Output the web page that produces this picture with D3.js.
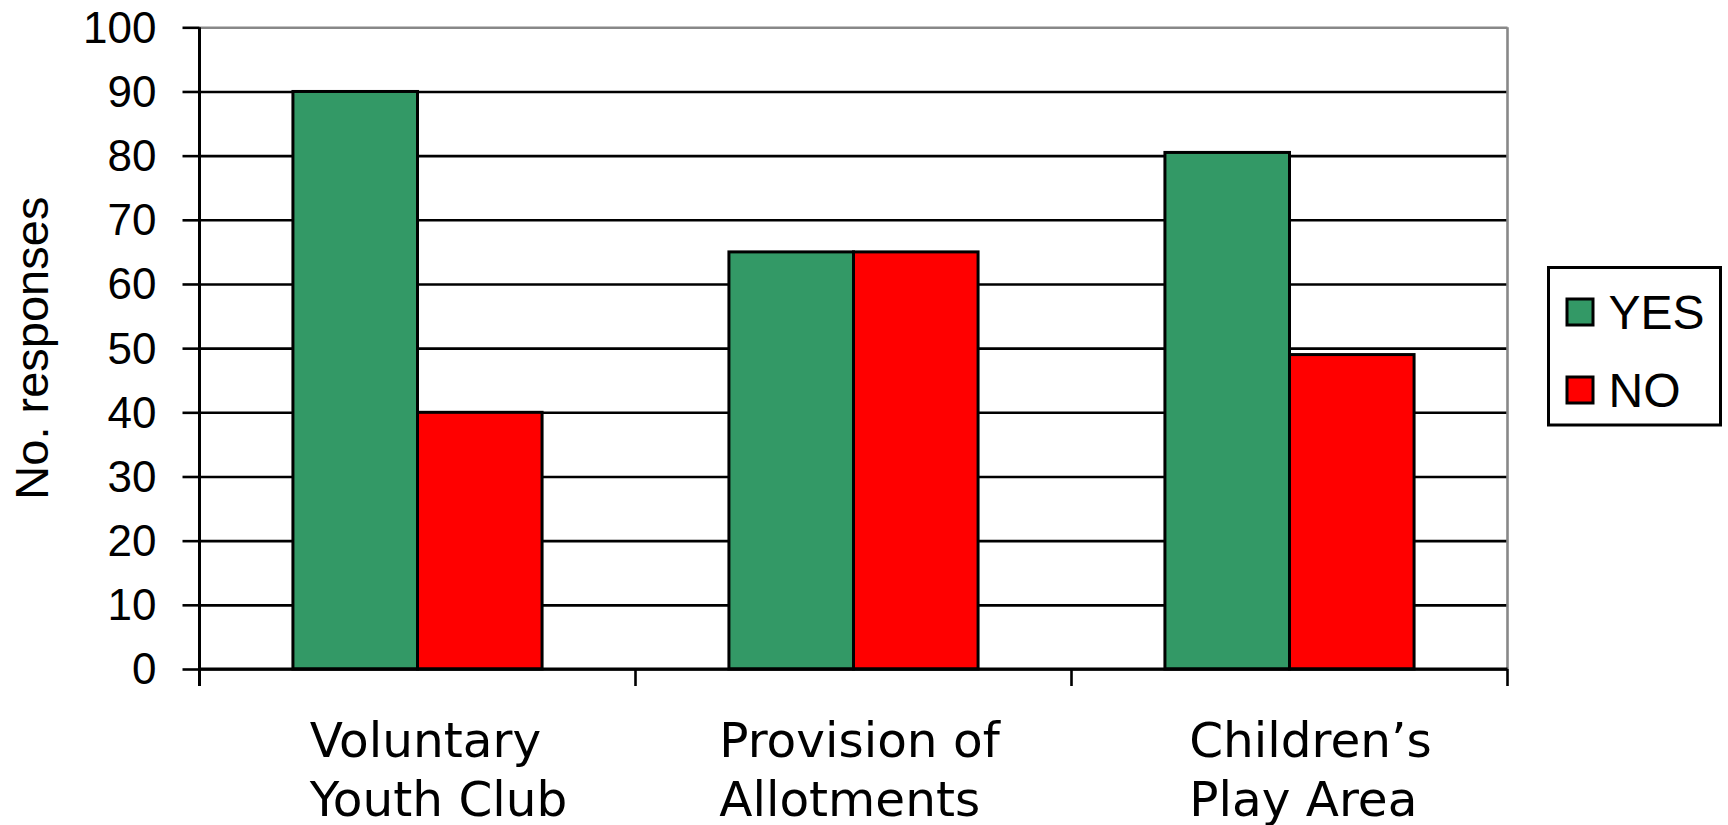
<!DOCTYPE html>
<html>
<head>
<meta charset="utf-8">
<script src="https://cdn.jsdelivr.net/npm/d3@7"></script>
<style>
  html, body { margin: 0; padding: 0; background: #fff; }
  svg { display: block; }
</style>
</head>
<body>
<svg id="chart" width="1728" height="825"></svg>
<script>
const categories = [["Voluntary", "Youth Club"], ["Provision of", "Allotments"], ["Children\u2019s", "Play Area"]];
const seriesNames = ["YES", "NO"];
const yesValues = [90, 65, 80.5];
const noValues = [40, 65, 49];
const yTicks = [0, 10, 20, 30, 40, 50, 60, 70, 80, 90, 100];
const colors = { YES: "#339966", NO: "#FF0000" };

(function () {
const svg = d3.select("#chart");
const pL = 199.5, pR = 1507.5, pT = 27.3, pB = 669;
const labelNudge = [2, -13, 2];
const catKeys = categories.map(c => c.join(" "));

const x = d3.scaleBand().domain(catKeys).range([pL, pR]).paddingInner(0).paddingOuter(0);
const x1 = d3.scaleBand().domain(seriesNames).range([0, x.bandwidth()]).paddingInner(0).paddingOuter(0.75);
const y = d3.scaleLinear().domain([0, 100]).range([pB, pT]);

// gridlines
const grid = svg.append("g").attr("transform", `translate(${pL},0)`)
  .call(d3.axisLeft(y).tickValues(yTicks).tickSize(-(pR - pL)).tickFormat(""));
grid.select(".domain").remove();
grid.selectAll(".tick line").attr("stroke", d => d === 100 ? "#888" : "#000").attr("stroke-width", 2.6);

// right border
svg.append("line").attr("x1", pR).attr("x2", pR).attr("y1", pT).attr("y2", pB)
  .attr("stroke", "#888").attr("stroke-width", 2.6);

// bars
const data = catKeys.map((k, i) => ({ key: k, values: [{ s: "YES", v: yesValues[i] }, { s: "NO", v: noValues[i] }] }));
const groups = svg.append("g").selectAll("g").data(data).join("g")
  .attr("transform", d => `translate(${x(d.key)},0)`);
groups.selectAll("rect").data(d => d.values).join("rect")
  .attr("x", d => x1(d.s))
  .attr("width", x1.bandwidth())
  .attr("y", d => y(d.v))
  .attr("height", d => y(0) - y(d.v))
  .attr("fill", d => colors[d.s])
  .attr("stroke", "#000")
  .attr("stroke-width", 3);

// y axis with labels
const yAxis = svg.append("g").attr("transform", `translate(${pL},0)`)
  .call(d3.axisLeft(y).tickValues(yTicks).tickSize(17).tickPadding(26));
yAxis.select(".domain").remove();
yAxis.selectAll(".tick line").attr("stroke", "#000").attr("stroke-width", 2.6);
yAxis.selectAll(".tick text").attr("font-family", "Liberation Sans, Arial, sans-serif")
  .attr("font-size", 44).attr("fill", "#000").attr("dy", "0.34em");

// y axis line
svg.append("line").attr("x1", pL).attr("x2", pL).attr("y1", pT).attr("y2", pB + 17)
  .attr("stroke", "#000").attr("stroke-width", 3);

// x axis line and ticks
svg.append("line").attr("x1", pL).attr("x2", pR).attr("y1", pB).attr("y2", pB)
  .attr("stroke", "#000").attr("stroke-width", 3);
const boundaries = catKeys.map(k => x(k) + x.bandwidth());
svg.append("g").selectAll("line").data(boundaries).join("line")
  .attr("x1", d => d).attr("x2", d => d).attr("y1", pB).attr("y2", pB + 17)
  .attr("stroke", "#000").attr("stroke-width", 2.6);

// category labels
const labels = svg.append("g").selectAll("text").data(categories).join("text")
  .attr("font-family", "DejaVu Sans, Verdana, sans-serif")
  .attr("font-size", 48.5).attr("fill", "#000");
labels.each(function(lines, i) {
  const t = d3.select(this);
  lines.forEach((ln, j) => {
    t.append("tspan").attr("y", 757 + j * 58.5).text(ln);
  });
  let maxW = 0;
  t.selectAll("tspan").each(function() { maxW = Math.max(maxW, this.getComputedTextLength()); });
  const cx = x(catKeys[i]) + x.bandwidth() / 2;
  t.selectAll("tspan").attr("x", cx - maxW / 2 + 19 + labelNudge[i]);
});

// y axis title
svg.append("text")
  .attr("transform", `translate(47.5,${(pT + pB) / 2}) rotate(-90)`)
  .attr("text-anchor", "middle")
  .attr("font-family", "Liberation Sans, Arial, sans-serif")
  .attr("font-size", 47).attr("fill", "#000")
  .text("No. responses");

// legend
const lg = svg.append("g");
lg.append("rect").attr("x", 1548.5).attr("y", 267.5).attr("width", 172).attr("height", 157.5)
  .attr("fill", "#fff").attr("stroke", "#000").attr("stroke-width", 3);
const items = lg.selectAll("g").data(seriesNames).join("g")
  .attr("transform", (d, i) => `translate(0,${i * 78})`);
items.append("rect").attr("x", 1567).attr("y", 299).attr("width", 26).attr("height", 26)
  .attr("fill", d => colors[d]).attr("stroke", "#000").attr("stroke-width", 3);
items.append("text").attr("x", 1608.5).attr("y", 328.5)
  .attr("font-family", "Liberation Sans, Arial, sans-serif")
  .attr("font-size", 48).attr("fill", "#000").text(d => d);
})();
</script>
</body>
</html>
